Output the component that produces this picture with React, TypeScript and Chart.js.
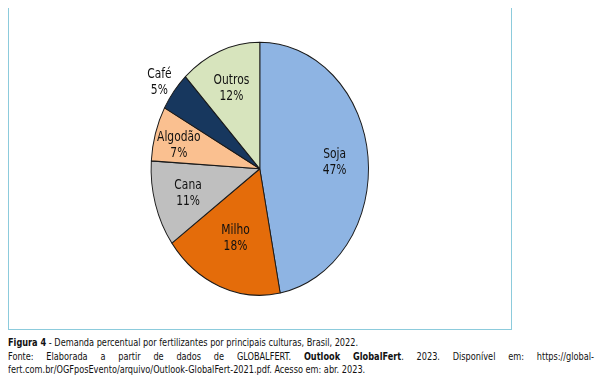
import React, { useEffect, useRef } from "react";
import { Chart, registerables } from "chart.js";

Chart.register(...registerables);

const categories = ["Soja", "Milho", "Cana", "Algodão", "Café", "Outros"];
const values = [47, 18, 11, 7, 5, 12];
const percentLabels = ["47%", "18%", "11%", "7%", "5%", "12%"];
const colors = ["#8eb4e3", "#e46c0a", "#bfbfbf", "#fac090", "#17375e", "#d7e4bd"];
// label placement (style): distance from centre as fraction of radius, and angle tweak in degrees
const labelRadius = [0.69, 0.592, 0.688, 0.768, 1.148, 0.688];
const labelAngleShift = [1, 0.6, -0.2, -2.1, -1.4, -0.7];

const ELLIPSE_X = 108.7 / 126.5;
const TEXT_SCALE = 0.85;
const FONT = '"DejaVu Sans Condensed", "DejaVu Sans", sans-serif';

const ellipsePlugin = {
  id: "ellipse",
  beforeDatasetsDraw(chart: any) {
    const arc = chart.getDatasetMeta(0).data[0];
    if (!arc) return;
    const ctx = chart.ctx;
    ctx.save();
    ctx.translate(arc.x, arc.y);
    ctx.scale(ELLIPSE_X, 1);
    ctx.translate(-arc.x, -arc.y);
  },
  afterDatasetsDraw(chart: any) {
    const ctx = chart.ctx;
    ctx.restore();
    const meta = chart.getDatasetMeta(0);
    meta.data.forEach((a: any, i: number) => {
      const mid = (a.startAngle + a.endAngle) / 2 + (labelAngleShift[i] * Math.PI) / 180;
      const r = a.outerRadius * labelRadius[i];
      const x = a.x + Math.cos(mid) * r * ELLIPSE_X;
      const y = a.y + Math.sin(mid) * r;
      ctx.save();
      ctx.translate(x, y);
      ctx.scale(TEXT_SCALE, 1);
      ctx.font = `14px ${FONT}`;
      ctx.fillStyle = "#111";
      ctx.textAlign = "center";
      ctx.textBaseline = "middle";
      ctx.fillText(categories[i], 0, -7.8);
      ctx.fillText(percentLabels[i], 0, 8);
      ctx.restore();
    });
  },
};

export default function App() {
  const ref = useRef<HTMLCanvasElement>(null);
  useEffect(() => {
    if (!ref.current) return;
    const chart = new Chart(ref.current, {
      type: "pie",
      data: {
        labels: categories,
        datasets: [
          {
            data: values,
            backgroundColor: colors,
            borderColor: "#1a1a1a",
            borderWidth: 1.1,
          },
        ],
      },
      options: {
        responsive: false,
        animation: false,
        radius: 126.5,
        layout: { padding: { left: 132.8, right: 133.2, top: 42.2, bottom: 34.6 } },
        plugins: { legend: { display: false }, tooltip: { enabled: false } },
        events: [],
      } as any,
      plugins: [ellipsePlugin],
    });
    return () => chart.destroy();
  }, []);

  const CAP_SCALE = 0.827;
  const cap: React.CSSProperties = {
    position: "absolute",
    left: 0,
    width: 586 / CAP_SCALE,
    fontFamily: FONT,
    fontSize: 11,
    lineHeight: "13.5px",
    color: "#111",
    whiteSpace: "nowrap",
    transform: `scaleX(${CAP_SCALE})`,
    transformOrigin: "0 0",
  };

  return (
    <div style={{ position: "relative", width: 607, height: 389 }}>
      <div
        style={{
          position: "absolute",
          left: 0,
          top: -1,
          width: 504,
          height: 323,
          boxSizing: "border-box",
          border: "1px solid #8ccbdc",
          background: "#fff",
        }}
      />
      <canvas
        ref={ref}
        width={520}
        height={330}
        style={{ position: "absolute", left: -8, top: -8, width: 520, height: 330 }}
      />
      <div style={{ ...cap, top: 328 }}>
        <b>Figura 4</b> - Demanda percentual por fertilizantes por principais culturas, Brasil, 2022.
      </div>
      <div style={{ ...cap, top: 341.5, textAlign: "justify", textAlignLast: "justify", whiteSpace: "normal" }}>
        Fonte: Elaborada a partir de dados de GLOBALFERT. <b>Outlook GlobalFert</b>. 2023. Disponível em: https://global-
      </div>
      <div style={{ ...cap, top: 355 }}>
        fert.com.br/OGFposEvento/arquivo/Outlook-GlobalFert-2021.pdf. Acesso em: abr. 2023.
      </div>
    </div>
  );
}
